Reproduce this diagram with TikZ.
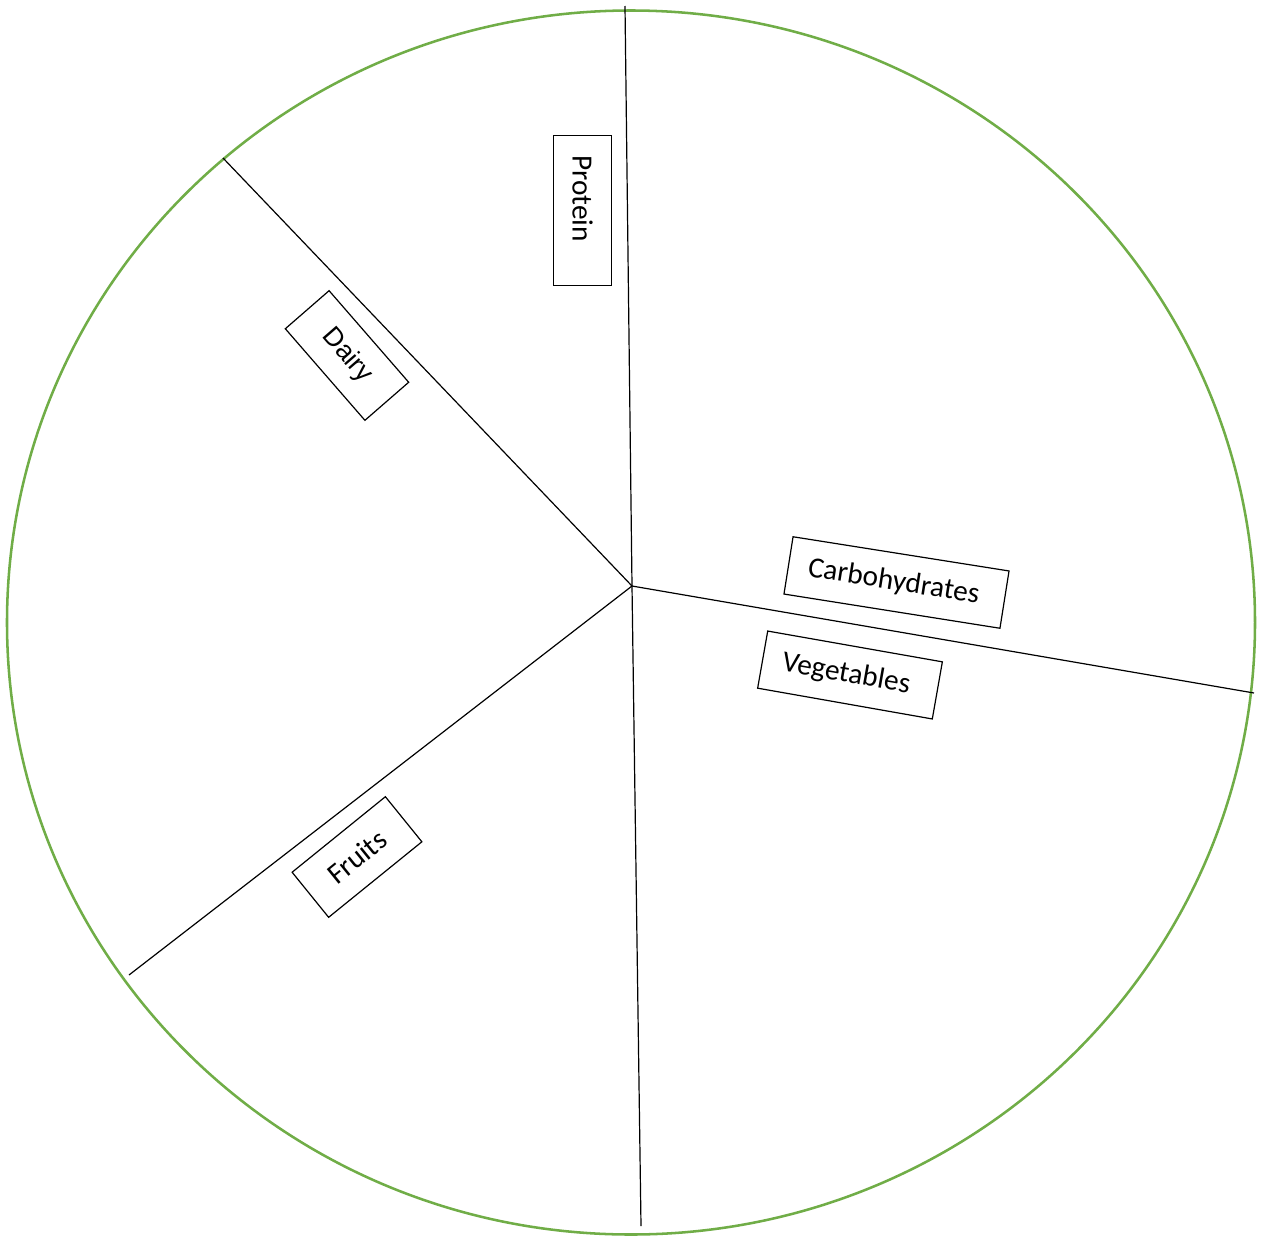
\documentclass[tikz,border=0pt]{standalone}
\usepackage{fontspec}
\setmainfont{Carlito}
\newfontfamily\arialfont{Liberation Sans}
\definecolor{pgreen}{RGB}{112,173,71}
\begin{document}
\begin{tikzpicture}[x=0.75pt,y=-0.75pt,
  lbl/.style={draw=black, line width=0.9pt, fill=white, minimum height=43.5pt,
    inner xsep=15pt, inner ysep=0pt, font=\fontsize{22}{26}\selectfont, align=left},
  spoke/.style={line width=0.9pt, black}]
\useasboundingbox (0,0) rectangle (1263,1235);
\coordinate (C) at (632,586);
\coordinate (pTop) at (625,6);
\coordinate (pDairy) at (223,158);
\coordinate (pFruit) at (129,975);
\coordinate (pBot) at (641,1226);
\coordinate (pRight) at (1254,693);
\draw[pgreen, line width=1.9pt] (631,622.5) ellipse [x radius=624, y radius=612];
\draw[spoke] (C) -- (pTop);
\draw[spoke] (C) -- (pDairy);
\draw[spoke] (C) -- (pFruit);
\draw[spoke] (C) -- (pBot);
\draw[spoke] (C) -- (pRight);
\node[lbl, rotate=-90, text width=83pt] (protein) at (582.5,210.5) {Protein};
\node[lbl, rotate=-49, text width=61pt, align=center, font=\arialfont\fontsize{20}{24}\selectfont] (dairy) at (347,355.5) {Dairy};
\node[lbl, rotate=-9, text width=134pt] (carbs) at (896.5,582.5) {Carbohydrates};
\node[lbl, rotate=-10, text width=103pt] (veg) at (850,675) {Vegetables};
\node[lbl, rotate=39, text width=60pt, align=center] (fruits) at (357,857) {Fruits};
\end{tikzpicture}
\end{document}
